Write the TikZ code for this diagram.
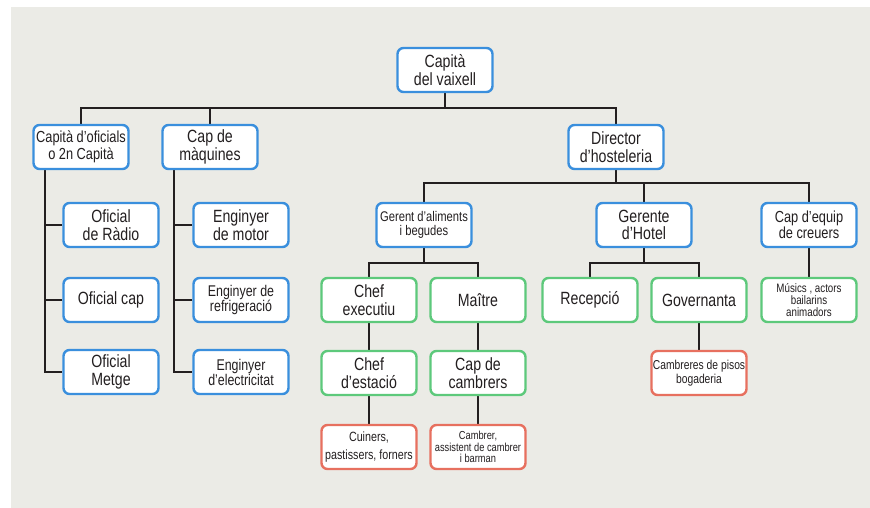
\documentclass[tikz,border=0pt]{standalone}
\usepackage{fontspec}
\setmainfont[FakeStretch=0.8]{Liberation Sans}
\usepackage{xcolor}
\usepackage{tikz}
\usetikzlibrary{positioning,calc}

\definecolor{bgGrey}{HTML}{EBEBE6}
\definecolor{boxBlue}{HTML}{3A8FDD}
\definecolor{boxGreen}{HTML}{5DC97B}
\definecolor{boxRed}{HTML}{E7705F}
\definecolor{inkGrey}{HTML}{231F20}

\pgfdeclarelayer{background}
\pgfsetlayers{background,main}

\tikzset{
  orgbox/.style={draw, fill=white, rounded corners=6pt, line width=2.4pt,
    minimum width=95pt, minimum height=44pt, inner sep=1pt, align=center, text=inkGrey},
  bluebox/.style={orgbox, draw=boxBlue},
  greenbox/.style={orgbox, draw=boxGreen},
  redbox/.style={orgbox, draw=boxRed},
  bigtxt/.style={font=\fontsize{17.7}{17.5}\selectfont},
  link/.style={line width=1.4pt, draw=inkGrey}
}

\begin{document}
\begin{tikzpicture}[x=1pt, y=-1pt]
    \useasboundingbox (0,0) rectangle (870,508);

    % Top
    \node[bluebox, bigtxt] (cap) at (445,70) {Capità\\del vaixell};

    % Second row
    \node[bluebox, font=\fontsize{16}{17.5}\selectfont] (cof) at (81,147) {Capità d’oficials\\o 2n Capità};
    \node[bluebox, bigtxt] (cmaq) at (210,147) {Cap de\\màquines};
    \node[bluebox, bigtxt] (dir) at (616,147) {Director\\d’hosteleria};

    % Officers
    \node[bluebox, bigtxt] (ofr) at (111,225) {Oficial\\de Ràdio};
    \node[bluebox, bigtxt] (ofc) at (111,300) {Oficial cap};
    \node[bluebox, bigtxt] (ofm) at (111,372) {Oficial\\Metge};

    % Engineers
    \node[bluebox, bigtxt] (emo) at (241,225) {Enginyer\\de motor};
    \node[bluebox, font=\fontsize{15.5}{15}\selectfont] (eref) at (241,300) {Enginyer de\\refrigeració};
    \node[bluebox, font=\fontsize{15.5}{15}\selectfont] (eele) at (241,372) {Enginyer\\d’electricitat};

    % Hotel managers
    \node[bluebox, font=\fontsize{14}{13.5}\selectfont] (ger) at (424,225) {Gerent d’aliments\\i begudes};
    \node[bluebox, bigtxt] (gho) at (644,225) {Gerente\\d’Hotel};
    \node[bluebox, font=\fontsize{16}{15.5}\selectfont] (ceq) at (809,225) {Cap d’equip\\de creuers};

    % Staff
    \node[greenbox, bigtxt] (chx) at (369,300) {Chef\\executiu};
    \node[greenbox, bigtxt] (mai) at (478,300) {Maître};
    \node[greenbox, bigtxt] (rec) at (590,300) {Recepció};
    \node[greenbox, bigtxt] (gov) at (699,300) {Governanta};
    \node[greenbox, font=\fontsize{12.2}{11.8}\selectfont] (mus) at (809,300) {Músics , actors\\bailarins\\animadors};

    \node[greenbox, bigtxt] (che) at (369,373) {Chef\\d’estació};
    \node[greenbox, bigtxt] (ccb) at (478,373) {Cap de\\cambrers};
    \node[redbox, font=\fontsize{12.9}{13.5}\selectfont] (cpi) at (699,373) {Cambreres de pisos\\bogaderia};

    \node[redbox, font=\fontsize{13.4}{18}\selectfont] (cui) at (369,447) {Cuiners,\\pastissers, forners};
    \node[redbox, font=\fontsize{11.6}{11.2}\selectfont] (cbr) at (478,447) {Cambrer,\\assistent de cambrer\\i barman};

    \begin{pgfonlayer}{background}
    \fill[bgGrey] (11,7) rectangle (870,508); % Panel

    \draw[link] (cap.south) -- (cap.south |- 0,108);
    \draw[link] (cof.north) |- (dir.north |- 0,108) -- (dir.north);
    \draw[link] (cmaq.north) -- (cmaq.north |- 0,108);

    \draw[link] (cof.south -| 45,0) |- (ofm.west);
    \foreach \n in {ofr,ofc} \draw[link] (\n.west) -- (\n.west -| 45,0);
    \draw[link] (cmaq.south -| 174,0) |- (eele.west);
    \foreach \n in {emo,eref} \draw[link] (\n.west) -- (\n.west -| 174,0);

    \draw[link] (dir.south) -- (dir.south |- 0,183);
    \draw[link] (ger.north) |- (ceq.north |- 0,183) -- (ceq.north);
    \draw[link] (gho.north) -- (gho.north |- 0,183);

    \draw[link] (ger.south) -- (ger.south |- 0,263);
    \draw[link] (chx.north) |- (mai.north |- 0,263) -- (mai.north);
    \draw[link] (gho.south) -- (gho.south |- 0,263);
    \draw[link] (rec.north) |- (gov.north |- 0,263) -- (gov.north);
    \draw[link] (ceq.south) -- (mus.north);

    \draw[link] (chx.south) -- (che.north) (che.south) -- (cui.north);
    \draw[link] (mai.south) -- (ccb.north) (ccb.south) -- (cbr.north);
    \draw[link] (gov.south) -- (cpi.north);
    \end{pgfonlayer}
\end{tikzpicture}
\end{document}
